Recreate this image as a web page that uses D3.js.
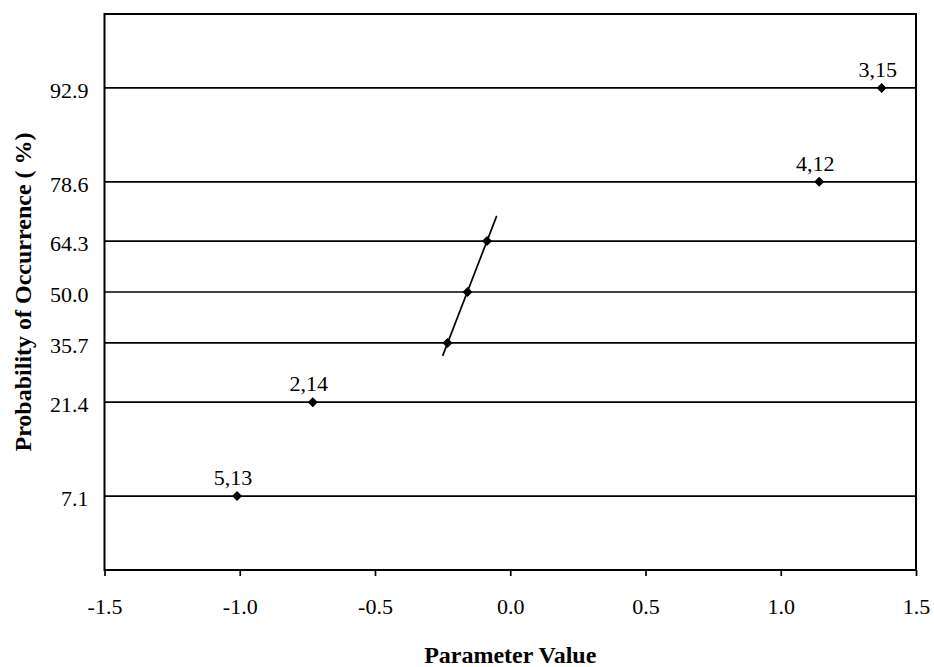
<!DOCTYPE html>
<html>
<head>
<meta charset="utf-8">
<script src="https://cdn.jsdelivr.net/npm/d3@7"></script>
<style>
  body { margin: 0; background: #fff; }
  svg { display: block; font-family: "Liberation Serif", "Times New Roman", serif; }
</style>
</head>
<body>
<svg id="chart" width="934" height="667"></svg>
<script>
// plotting positions (%) and parameter values
const probTicks = [7.1, 21.4, 35.7, 50.0, 64.3, 78.6, 92.9];
const xTicks = [-1.5, -1.0, -0.5, 0.0, 0.5, 1.0, 1.5];
const pointX = [-1.01, -0.73, -0.232, -0.158, -0.086, 1.142, 1.373];
const pointP = [7.1, 21.4, 35.7, 50.0, 64.3, 78.6, 92.9];
const pointLabels = ['5,13', '2,14', '', '', '', '4,12', '3,15'];
// fitted line ends (x, %)
const fitX = [-0.25, -0.05];
const fitP = [32.3, 70.8];

// inverse normal CDF (Acklam) for probability paper
function probit(p) {
  const a = [-39.6968302866538, 220.946098424521, -275.928510446969, 138.357751867269, -30.6647980661472, 2.50662827745924];
  const b = [-54.4760987982241, 161.585836858041, -155.698979859887, 66.8013118877197, -13.2806815528857];
  const c = [-0.00778489400243029, -0.322396458041136, -2.40075827716184, -2.54973253934373, 4.37466414146497, 2.93816398269878];
  const d = [0.00778469570904146, 0.32246712907004, 2.445134137143, 3.75440866190742];
  const lo = 0.02425;
  let q, r;
  if (p < lo) {
    q = Math.sqrt(-2 * Math.log(p));
    return (((((c[0]*q+c[1])*q+c[2])*q+c[3])*q+c[4])*q+c[5]) / ((((d[0]*q+d[1])*q+d[2])*q+d[3])*q+1);
  }
  if (p > 1 - lo) {
    q = Math.sqrt(-2 * Math.log(1 - p));
    return -(((((c[0]*q+c[1])*q+c[2])*q+c[3])*q+c[4])*q+c[5]) / ((((d[0]*q+d[1])*q+d[2])*q+d[3])*q+1);
  }
  q = p - 0.5; r = q * q;
  return (((((a[0]*r+a[1])*r+a[2])*r+a[3])*r+a[4])*r+a[5])*q / (((((b[0]*r+b[1])*r+b[2])*r+b[3])*r+b[4])*r+1);
}

const plotL = 104.5, plotR = 916, plotT = 14, plotB = 570;
const svg = d3.select('#chart');

const x = d3.scaleLinear().domain([-1.5, 1.5]).range([plotL, plotR]);
const z = d3.scaleLinear().domain([-2, 2]).range([plotB, plotT]);
const y = (p) => z(probit(p / 100));

// horizontal grid lines at the plotting positions
svg.append('g')
  .selectAll('line')
  .data(probTicks)
  .join('line')
  .attr('x1', plotL).attr('x2', plotR)
  .attr('y1', (d) => y(d)).attr('y2', (d) => y(d))
  .attr('stroke', '#000')
  .attr('stroke-width', 1.7);

// y tick labels
svg.append('g')
  .selectAll('text')
  .data(probTicks)
  .join('text')
  .attr('x', plotL - 16)
  .attr('y', (d) => y(d))
  .attr('dy', '0.45em')
  .attr('text-anchor', 'end')
  .style('font-size', '22px')
  .text((d) => d.toFixed(1));

// x axis
const xAxis = svg.append('g')
  .attr('transform', `translate(0,${plotB})`)
  .call(d3.axisBottom(x).tickValues(xTicks).tickSize(6).tickPadding(22)
    .tickFormat((d) => d.toFixed(1).replace('\u2212', '-')));
xAxis.select('.domain').remove();
xAxis.selectAll('line').attr('stroke', '#000').attr('stroke-width', 1.7);
xAxis.selectAll('text')
  .attr('fill', '#000')
  .style('font-size', '22px')
  .style('font-family', '"Liberation Serif", "Times New Roman", serif');

// plot border
svg.append('rect')
  .attr('x', plotL).attr('y', plotT)
  .attr('width', plotR - plotL).attr('height', plotB - plotT)
  .attr('fill', 'none')
  .attr('stroke', '#000')
  .attr('stroke-width', 2);

// fitted line
const fit = fitX.map((v, i) => [v, fitP[i]]);
svg.append('path')
  .datum(fit)
  .attr('d', d3.line().x((d) => x(d[0])).y((d) => y(d[1])))
  .attr('fill', 'none')
  .attr('stroke', '#000')
  .attr('stroke-width', 1.7);

// points (square turned 45deg, as in the original markers)
const pts = pointX.map((v, i) => ({ x: v, p: pointP[i], label: pointLabels[i] }));
svg.append('g')
  .selectAll('path')
  .data(pts)
  .join('path')
  .attr('transform', (d) => `translate(${x(d.x)},${y(d.p)}) rotate(45)`)
  .attr('d', d3.symbol().type(d3.symbolSquare).size(50))
  .attr('fill', '#000');

svg.append('g')
  .selectAll('text')
  .data(pts.filter((d) => d.label))
  .join('text')
  .attr('x', (d) => x(d.x) - 4)
  .attr('y', (d) => y(d.p) - 11)
  .attr('text-anchor', 'middle')
  .style('font-size', '22px')
  .text((d) => d.label);

// axis titles
svg.append('text')
  .attr('x', (plotL + plotR) / 2)
  .attr('y', 663)
  .attr('text-anchor', 'middle')
  .style('font-size', '24px')
  .style('font-weight', 'bold')
  .text('Parameter Value');

svg.append('text')
  .attr('transform', `translate(23,${(plotT + plotB) / 2}) rotate(-90)`)
  .attr('text-anchor', 'middle')
  .attr('dy', '0.35em')
  .style('font-size', '24px')
  .style('font-weight', 'bold')
  .text('Probability of Occurrence ( %)');
</script>
</body>
</html>
